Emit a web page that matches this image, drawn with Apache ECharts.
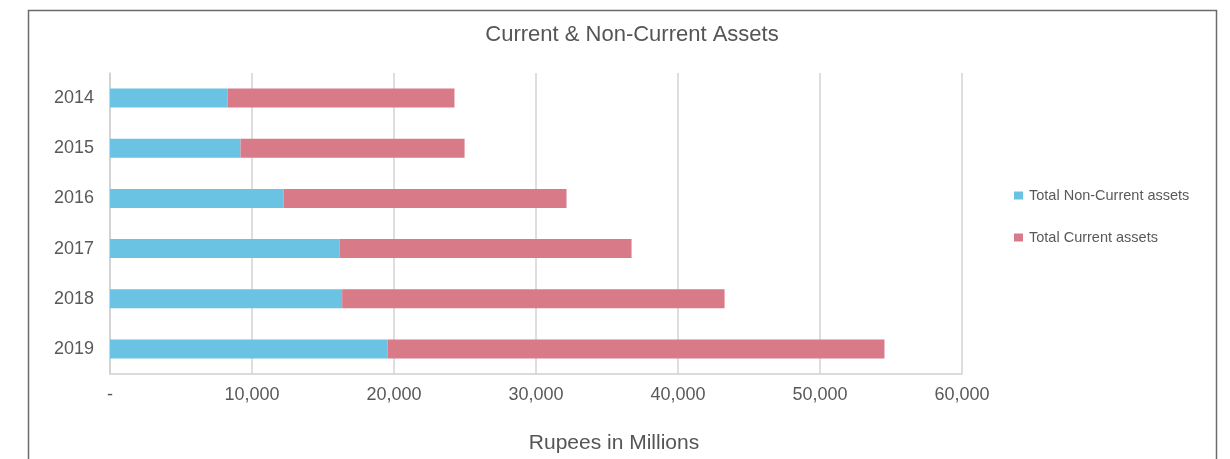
<!DOCTYPE html>
<html>
<head>
<meta charset="utf-8">
<script src="https://cdn.jsdelivr.net/npm/echarts@6/dist/echarts.min.js"></script>
<style>
  html, body { margin: 0; padding: 0; background: #fff; }
  #chart { width: 1230px; height: 459px; }
</style>
</head>
<body>
<div id="chart"></div>
<script>
// Balance-sheet assets by year, Rupees in Millions
const years = ['2014', '2015', '2016', '2017', '2018', '2019'];
const nonCurrentAssets = [8280, 9190, 12220, 16160, 16350, 19540];
const currentAssets = [15980, 15780, 19930, 20570, 26930, 35000];
const xTicks = [0, 10000, 20000, 30000, 40000, 50000, 60000];

const textColor = '#595959';
const fontFamily = '"Liberation Sans", Arial, Helvetica, sans-serif';

const chart = echarts.init(document.getElementById('chart'), null, { renderer: 'canvas' });

function fmtTick(v) {
  if (v === 0) return '-';
  return v.toLocaleString('en-US');
}

chart.setOption({
  animation: false,
  backgroundColor: '#ffffff',
  textStyle: { fontFamily: fontFamily },
  title: {
    text: 'Current & Non-Current Assets',
    left: 627,
    top: 19,
    textAlign: 'center',
    textStyle: { fontSize: 22, fontWeight: 'normal', color: '#555555', fontFamily: fontFamily }
  },
  legend: {
    orient: 'vertical',
    left: 1009,
    top: 183,
    itemWidth: 9,
    itemHeight: 8,
    itemGap: 27,
    icon: 'rect',
    textStyle: { fontSize: 14.5, color: textColor, fontFamily: fontFamily, padding: [0, 0, 0, 1] },
    data: ['Total Non-Current assets', 'Total Current assets']
  },
  grid: { left: 110, right: 268, top: 73, bottom: 85, containLabel: false },
  xAxis: {
    type: 'value',
    min: xTicks[0],
    max: xTicks[xTicks.length - 1],
    interval: xTicks[1] - xTicks[0],
    axisLine: { show: true, lineStyle: { color: '#cfcfcf', width: 1.5 } },
    axisTick: { show: false },
    splitLine: { show: true, lineStyle: { color: '#d3d3d3', width: 1.5 } },
    axisLabel: {
      margin: 12,
      fontSize: 18,
      color: textColor,
      fontFamily: fontFamily,
      formatter: fmtTick
    }
  },
  yAxis: {
    type: 'category',
    inverse: true,
    data: years,
    axisLine: { show: true, lineStyle: { color: '#cfcfcf', width: 1.5 } },
    axisTick: { show: false },
    axisLabel: { margin: 16, fontSize: 18, color: textColor, fontFamily: fontFamily }
  },
  graphic: [
    {
      type: 'rect',
      shape: { x: 28.5, y: 10.5, width: 1188, height: 470 },
      style: { fill: 'none', stroke: '#6b6b6b', lineWidth: 1.5 },
      silent: true
    },
    {
      type: 'text',
      x: 614,
      y: 443,
      style: {
        text: 'Rupees in Millions',
        textAlign: 'center',
        textVerticalAlign: 'middle',
        fontSize: 21,
        fill: '#555555',
        fontFamily: fontFamily
      },
      silent: true
    }
  ],
  series: [
    {
      name: 'Total Non-Current assets',
      type: 'bar',
      stack: 'assets',
      barWidth: 19,
      itemStyle: { color: '#6AC3E2' },
      data: nonCurrentAssets
    },
    {
      name: 'Total Current assets',
      type: 'bar',
      stack: 'assets',
      barWidth: 19,
      itemStyle: { color: '#D97A89' },
      data: currentAssets
    }
  ]
});
</script>
</body>
</html>
